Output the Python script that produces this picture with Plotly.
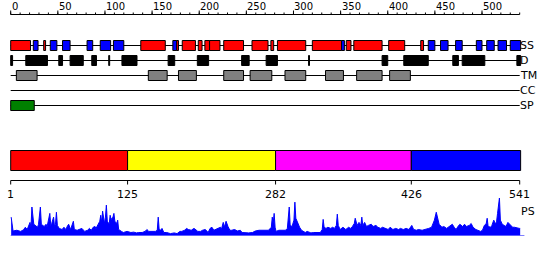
import plotly.graph_objects as go

# ---------------- data ----------------
seq_len = 541
ruler_major = list(range(0, 501, 50))
ruler_minor = list(range(0, 541, 10))

helix_start = [1, 36, 139, 177, 183, 200, 207, 212, 227, 257, 277, 284, 321, 357, 365, 402, 436]
helix_end   = [21, 37, 164, 178, 196, 203, 211, 222, 247, 273, 279, 313, 351, 361, 394, 418, 438]
strand_start = [25, 43, 56, 82, 96, 110, 173, 352, 444, 457, 473, 495, 506, 518, 531]
strand_end   = [29, 49, 63, 87, 106, 120, 176, 354, 450, 464, 479, 500, 513, 526, 541]
dis_start = [1, 17, 52, 64, 87, 105, 119, 168, 199, 246, 272, 317, 395, 418, 470, 480, 538]
dis_end   = [2, 39, 55, 77, 91, 105, 134, 174, 210, 253, 283, 317, 400, 443, 475, 503, 541]
tm_start = [7, 147, 179, 227, 255, 292, 335, 368, 403]
tm_end   = [28, 166, 197, 247, 277, 313, 353, 394, 424]
sp_start = [1]
sp_end = [25]

track_labels = ["SS", "D", "TM", "CC", "SP"]

domain_start = [1, 125, 282, 426]
domain_end = [124, 281, 425, 541]
domain_colors = ["#FF0000", "#FFFF00", "#FF00FF", "#0000FF"]
domain_ticks = [1, 125, 282, 426, 541]

ps_pos = [
    1, 3, 7, 11, 14, 16, 18, 20, 21, 22,
    23, 25, 27, 29, 30, 32, 33, 36, 38, 39,
    42, 43, 44, 46, 47, 48, 49, 50, 52, 55,
    57, 59, 61, 62, 64, 65, 67, 68, 71, 73,
    76, 79, 82, 84, 86, 88, 90, 91, 93, 95,
    96, 97, 98, 100, 101, 102, 103, 105, 106, 107,
    109, 110, 111, 113, 114, 115, 118, 120, 124, 128,
    131, 134, 136, 140, 143, 145, 147, 151, 154, 156,
    157, 158, 160, 161, 163, 166, 170, 174, 177, 180,
    182, 185, 187, 189, 192, 195, 197, 199, 202, 204,
    207, 210, 212, 214, 216, 218, 221, 223, 224, 226,
    227, 229, 231, 233, 235, 238, 241, 244, 246, 250,
    253, 257, 260, 264, 269, 274, 277, 278, 279, 280,
    281,
    282, 285, 289, 292, 294, 296, 297, 299, 301, 302,
    303, 305, 307, 309, 313, 315, 319, 322, 326, 329,
    331, 332, 333, 335, 337, 340, 342, 344, 346, 347,
    348, 350, 353, 356, 359, 361, 363, 365, 366, 368,
    370, 372, 373, 374, 376, 378, 380, 383, 385, 388,
    390, 393, 395, 398, 401, 403, 406, 409, 412, 414,
    417, 420, 423, 426, 428, 431, 433, 437, 441, 444,
    447, 449, 450, 452, 454, 455, 458, 460, 463, 465,
    467, 469, 471, 473, 475, 477, 480, 482, 484, 487,
    489, 491, 494, 497, 499, 501, 503, 505, 506, 507,
    510, 511, 513, 515, 516, 517, 518, 519, 520, 522,
    524, 526, 528, 530, 533, 535, 538, 540, 541,
]
ps_val = [
    .49, .12, .14, .11, .15, .22, .16, .27, .35, .22,
    .76, .30, .27, .22, .30, .76, .30, .24, .30, .22,
    .59, .27, .32, .49, .24, .30, .62, .27, .19, .16,
    .22, .16, .27, .30, .16, .22, .38, .16, .14, .16,
    .19, .11, .14, .19, .14, .22, .24, .19, .30, .38,
    .54, .35, .65, .32, .49, .81, .38, .30, .54, .43,
    .49, .59, .38, .32, .41, .16, .11, .08, .11, .08,
    .09, .07, .08, .08, .11, .16, .11, .11, .11, .14,
    .49, .16, .14, .19, .08, .08, .05, .07, .05, .11,
    .11, .14, .19, .16, .14, .19, .14, .11, .11, .14,
    .16, .08, .19, .22, .14, .16, .19, .22, .16, .35,
    .22, .38, .24, .14, .14, .16, .12, .14, .08, .07,
    .07, .08, .12, .14, .14, .14, .22, .49, .32, .59,
    .22,
    .11, .14, .14, .14, .19, .76, .27, .24, .41, .89,
    .46, .32, .22, .14, .08, .11, .07, .08, .07, .08,
    .16, .43, .22, .19, .22, .19, .22, .19, .27, .57,
    .27, .16, .22, .16, .22, .19, .24, .32, .46, .27,
    .35, .27, .49, .27, .35, .24, .27, .30, .24, .27,
    .22, .19, .22, .19, .16, .22, .16, .19, .16, .19,
    .16, .19, .16, .27, .16, .14, .16, .14, .16, .19,
    .22, .32, .41, .62, .43, .30, .22, .24, .19, .22,
    .27, .30, .22, .16, .24, .30, .24, .30, .24, .27,
    .32, .22, .16, .14, .11, .14, .27, .32, .46, .24,
    .22, .27, .41, .30, .38, .59, .81, 1.0, .41, .30,
    .27, .24, .35, .30, .22, .22, .19, .19, .19,
]

# ---------------- layout helpers ----------------
W, H = 550, 260
X0_PX = 10.7                       # pixel of residue position 0
PX_PER_RES = 509.0 / (seq_len - 1)
u_min = -X0_PX / PX_PER_RES
u_max = (W - X0_PX) / PX_PER_RES

FONT = "DejaVu Sans"
row_y = [45.5, 60.5, 75.5, 90.5, 105.5]
box_half = 5.0

shapes = []
annotations = []

def line(x0, y0, x1, y1, color="black", width=1, yref="y"):
    shapes.append(dict(type="line", xref="x", yref=yref, x0=x0, y0=y0, x1=x1, y1=y1,
                       line=dict(color=color, width=width)))

def box(s, e, yc, fill, half=box_half):
    shapes.append(dict(type="rect", xref="x", yref="y", x0=s - 1, x1=e,
                       y0=yc - half, y1=yc + half, fillcolor=fill,
                       line=dict(color="black", width=1)))

# top ruler
ruler_y = 14.5
line(0, ruler_y, seq_len - 1, ruler_y)
for t in ruler_minor:
    line(t, ruler_y - 2, t, ruler_y)
for t in ruler_major:
    line(t, ruler_y - 4, t, ruler_y)
    annotations.append(dict(x=t, y=6, xref="x", yref="y", text=str(t), showarrow=False,
                            xanchor="left", yanchor="middle", xshift=0, borderpad=0,
                            font=dict(family=FONT, size=10, color="black")))

# track baselines
for yc in row_y:
    line(0, yc, seq_len - 1, yc)

for s, e in zip(helix_start, helix_end):
    box(s, e, row_y[0], "#FF0000")
for s, e in zip(strand_start, strand_end):
    box(s, e, row_y[0], "#0000FF")
for s, e in zip(dis_start, dis_end):
    box(s, e, row_y[1], "#000000")
for s, e in zip(tm_start, tm_end):
    box(s, e, row_y[2], "#808080")
for s, e in zip(sp_start, sp_end):
    box(s, e, row_y[4], "#008000")

for lab, yc in zip(track_labels, row_y):
    annotations.append(dict(x=seq_len - 1, y=yc, xref="x", yref="y", text=lab, showarrow=False,
                            xanchor="left", yanchor="middle", borderpad=0, xshift=-1,
                            font=dict(family=FONT, size=11, color="black")))

# domain bar
for s, e, c in zip(domain_start, domain_end, domain_colors):
    shapes.append(dict(type="rect", xref="x", yref="y", x0=s - 1, x1=e, y0=150.5, y1=170.5,
                       fillcolor=c, line=dict(color="black", width=1)))

druler_y = 180.5
line(0, druler_y, seq_len - 1, druler_y)
for t in domain_ticks:
    line(t - 1, druler_y, t - 1, druler_y + 4)
    annotations.append(dict(x=t - 1, y=194.5, xref="x", yref="y", text=str(t), showarrow=False,
                            xanchor="center", yanchor="middle", borderpad=0,
                            font=dict(family=FONT, size=11, color="black")))

# PS baseline
line(0, 0, seq_len + 4, 0, color="#0000FF", yref="y2")
annotations.append(dict(x=seq_len - 1, y=211, xref="x", yref="y", text="PS", showarrow=False,
                        xanchor="left", yanchor="middle", borderpad=0,
                        font=dict(family=FONT, size=11, color="black")))

fig = go.Figure()
fig.add_trace(go.Scatter(x=[p - 0.5 for p in ps_pos], y=ps_val, xaxis="x", yaxis="y2",
                         mode="lines", line=dict(color="#0000FF", width=1), fill="tozeroy",
                         fillcolor="#0000FF", hoverinfo="skip"))

ps_bottom = (H - 235.5) / H
ps_top = (H - 198) / H

fig.update_layout(
    width=W, height=H, margin=dict(l=0, r=0, t=0, b=0),
    paper_bgcolor="white", plot_bgcolor="rgba(0,0,0,0)",
    showlegend=False,
    xaxis=dict(range=[u_min, u_max], visible=False, fixedrange=True),
    yaxis=dict(range=[H, 0], visible=False, domain=[0, 1], fixedrange=True),
    yaxis2=dict(range=[0, 1], visible=False, domain=[ps_bottom, ps_top], fixedrange=True,
                anchor="x"),
    shapes=shapes,
    annotations=annotations,
)

fig.write_html("out.html", config={"displayModeBar": False})
